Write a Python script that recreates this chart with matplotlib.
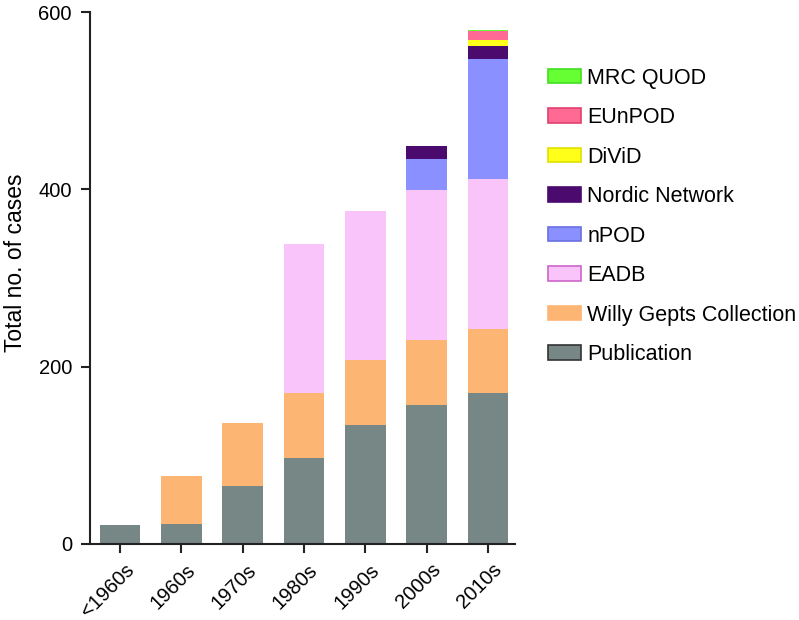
import matplotlib.pyplot as plt
from matplotlib.patches import Patch
from matplotlib.transforms import ScaledTranslation
import numpy as np

plt.rcParams['font.family'] = ['Liberation Sans', 'DejaVu Sans']

decades = ["<1960s", "1960s", "1970s", "1980s", "1990s", "2000s", "2010s"]

# stacked counts per decade, bottom to top
publication = [21, 23, 65, 97, 134, 157, 170]
willy_gepts = [0, 54, 72, 73, 73, 73, 73]
eadb = [0, 0, 0, 168, 169, 169, 169]
npod = [0, 0, 0, 0, 0, 35, 135]
nordic = [0, 0, 0, 0, 0, 15, 15]
divid = [0, 0, 0, 0, 0, 0, 6]
eunpod = [0, 0, 0, 0, 0, 0, 11]
mrc_quod = [0, 0, 0, 0, 0, 0, 1]

series = [
    ("Publication", publication, "#778786", "#333333"),
    ("Willy Gepts Collection", willy_gepts, "#FDB574", "#FDB574"),
    ("EADB", eadb, "#F8C4FA", "#CC66CC"),
    ("nPOD", npod, "#8A90FF", "#6A70E0"),
    ("Nordic Network", nordic, "#4B0A6E", "#4B0A6E"),
    ("DiViD", divid, "#FFFF1A", "#E0E000"),
    ("EUnPOD", eunpod, "#FF6A94", "#E04070"),
    ("MRC QUOD", mrc_quod, "#66FF33", "#44DD22"),
]

fig = plt.figure(figsize=(7.99, 6.2), dpi=100)
ax = fig.add_axes([0.1126, 0.1226, 0.532, 0.858])

x = np.arange(len(decades))
bottom = np.zeros(len(decades))
handles = []
for name, vals, color, edge in series:
    vals = np.array(vals, dtype=float)
    ax.bar(x, vals, 0.66, bottom=bottom, color=color, edgecolor="none")
    bottom += vals
    handles.append(Patch(facecolor=color, edgecolor=edge, linewidth=1.2, label=name))

ax.set_xlim(-0.49, 6.44)
ax.set_ylim(0, 600)
ax.set_yticks([0, 200, 400, 600])
ax.set_xticks(x)
ax.set_xticklabels(decades, rotation=45, ha="right", va="top", rotation_mode="anchor")
ax.tick_params(axis="both", labelsize=14.5, length=6.5, width=1.5, direction="out",
               color="#222222", pad=6.5)
ax.tick_params(axis="x", pad=3)
# nudge rotated labels a little, like the original
shift = ScaledTranslation(4 / 100, -3 / 100, fig.dpi_scale_trans)
for lbl in ax.get_xticklabels():
    lbl.set_transform(lbl.get_transform() + shift)

ax.set_ylabel("Total no. of cases", fontsize=16.5)
ax.yaxis.set_label_coords(-0.148, 0.528)

for side in ["top", "right"]:
    ax.spines[side].set_visible(False)
for side in ["left", "bottom"]:
    ax.spines[side].set_linewidth(1.5)
    ax.spines[side].set_color("#222222")

fig.legend(handles=handles[::-1], loc="upper left", bbox_to_anchor=(0.6755, 0.905),
           frameon=False, fontsize=15.5, handlelength=1.5, handleheight=0.65,
           handletextpad=0.3, labelspacing=0.86, borderaxespad=0)

fig.savefig("out.png", dpi=100)
